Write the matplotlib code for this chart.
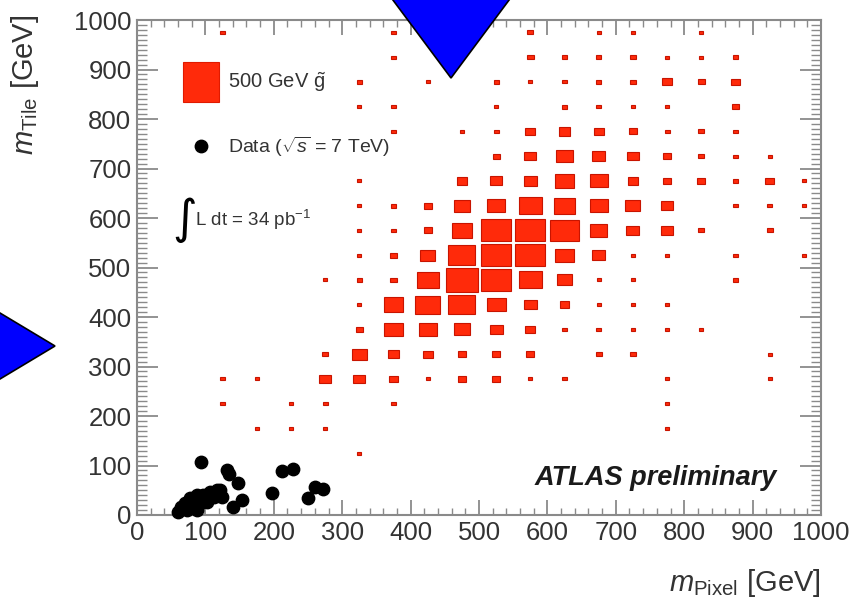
import numpy as np
import matplotlib
matplotlib.use("Agg")
import matplotlib.pyplot as plt
from matplotlib.patches import Rectangle, Polygon
from matplotlib.ticker import MultipleLocator

plt.rcParams['font.family'] = ['Liberation Sans', 'DejaVu Sans']
plt.rcParams['mathtext.fontset'] = 'custom'
plt.rcParams['mathtext.rm'] = 'Liberation Sans'
plt.rcParams['mathtext.it'] = 'Liberation Sans:italic'

# bin centres of the 2D histogram (GeV)
x_centres = [125, 175, 225, 275, 325, 375, 425, 475, 525, 575, 625, 675, 725, 775, 825, 875, 925, 975]
y_centres = [975, 925, 875, 825, 775, 725, 675, 625, 575, 525, 475, 425, 375, 325, 275, 225, 175, 125]

# 500 GeV gluino signal, relative bin content (rows top -> bottom)
gluino = [
    [9, 0, 0, 0, 0, 9, 0, 0, 0, 18, 0, 12, 12, 0, 12, 0, 0, 0],
    [0, 0, 0, 0, 0, 8, 0, 0, 0, 20, 15, 15, 20, 9, 9, 18, 0, 0],
    [0, 0, 0, 0, 15, 0, 8, 0, 15, 12, 12, 15, 18, 31, 22, 28, 0, 0],
    [0, 0, 0, 0, 12, 12, 0, 0, 12, 0, 18, 15, 9, 9, 0, 20, 0, 0],
    [0, 0, 0, 0, 0, 8, 0, 9, 15, 31, 37, 31, 25, 15, 18, 9, 0, 0],
    [0, 0, 0, 0, 0, 0, 0, 0, 22, 37, 50, 40, 37, 25, 18, 12, 12, 0],
    [0, 0, 0, 0, 9, 0, 0, 33, 38, 40, 60, 55, 33, 25, 25, 18, 28, 9],
    [0, 0, 0, 0, 9, 18, 25, 52, 56, 72, 68, 56, 47, 37, 0, 9, 15, 9],
    [0, 0, 0, 0, 9, 9, 25, 62, 94, 94, 88, 53, 40, 37, 18, 0, 18, 0],
    [0, 0, 0, 0, 9, 22, 47, 84, 94, 94, 56, 40, 9, 12, 0, 9, 0, 9],
    [0, 0, 0, 9, 15, 20, 68, 100, 94, 72, 47, 12, 12, 0, 0, 15, 0, 0],
    [0, 0, 0, 0, 12, 62, 78, 84, 59, 40, 30, 9, 12, 12, 0, 0, 0, 0],
    [0, 0, 0, 0, 22, 56, 56, 52, 40, 31, 15, 15, 9, 9, 9, 0, 0, 0],
    [0, 0, 0, 18, 47, 37, 31, 25, 25, 25, 0, 18, 20, 0, 0, 0, 9, 0],
    [8, 8, 0, 37, 37, 28, 9, 25, 25, 9, 9, 0, 0, 9, 0, 0, 9, 0],
    [15, 0, 8, 15, 0, 15, 0, 0, 0, 0, 0, 0, 0, 12, 0, 0, 0, 0],
    [0, 8, 9, 9, 0, 0, 0, 0, 0, 0, 0, 0, 0, 9, 0, 0, 0, 0],
    [0, 0, 0, 0, 8, 0, 0, 0, 0, 0, 0, 0, 0, 0, 0, 0, 0, 0],
]

# data candidates (m_Pixel, m_Tile) in GeV
data_pixel = [93, 131, 134, 147, 121, 153, 141, 197, 212, 228, 250, 260, 272,
              60, 70, 78, 87, 97, 107, 112, 102, 92, 82, 73, 87, 117, 124, 65, 80, 95, 104]
data_tile = [108, 91, 82, 64, 51, 30, 17, 44, 88, 92, 34, 56, 52,
             7, 24, 34, 40, 40, 47, 37, 27, 24, 17, 10, 10, 51, 37, 17, 27, 34, 34]

bin_width = 50
red = '#ff2a0a'
grey = '#8a8a8a'
txt = '#333333'

fig = plt.figure(figsize=(8.67, 6.0), dpi=100)
ax = fig.add_axes([137/867, 85/600, 684/867, 495/600])

vmax = max(max(r) for r in gluino)
for j, y in enumerate(y_centres):
    for i, x in enumerate(x_centres):
        v = gluino[j][i]
        if v <= 0:
            continue
        side = max(v / vmax * bin_width * 0.94, 6)
        ax.add_patch(Rectangle((x - side/2, y - side/2), side, side,
                               facecolor=red, edgecolor='#c81400', linewidth=0.8, zorder=2))

ax.scatter(data_pixel, data_tile, s=80, color='black', zorder=3, clip_on=False)

ax.set_xlim(0, 1000)
ax.set_ylim(0, 1000)
ax.xaxis.set_major_locator(MultipleLocator(100))
ax.xaxis.set_minor_locator(MultipleLocator(20))
ax.yaxis.set_major_locator(MultipleLocator(100))
ax.yaxis.set_minor_locator(MultipleLocator(10))
ax.tick_params(axis='both', which='both', direction='in', top=True, right=True,
               color=grey, labelcolor=txt, labelsize=18.5)
ax.tick_params(axis='y', which='major', length=15, width=1.3, pad=4)
ax.tick_params(axis='y', which='minor', length=7, width=1.0)
ax.tick_params(axis='x', which='major', length=11, width=1.3, pad=4)
ax.tick_params(axis='x', which='minor', length=5, width=1.0)
for s in ax.spines.values():
    s.set_color(grey)
    s.set_linewidth(1.5)

# legend drawn by hand, ROOT style
ax.add_patch(Rectangle((0.067, 0.834), 0.053, 0.081, transform=ax.transAxes,
                       facecolor=red, edgecolor='#e01a00', linewidth=0.8, zorder=4))
ax.text(0.133, 0.874, r'500 GeV $\tilde{\rm g}$', transform=ax.transAxes,
        fontsize=14.5, color=txt, va='center')
ax.scatter([0.094], [0.745], s=80, color='black', transform=ax.transAxes, zorder=4)
ax.text(0.133, 0.743, r'Data ($\sqrt{s}$ = 7 TeV)', transform=ax.transAxes,
        fontsize=14, color=txt, va='center')
ax.text(0.052, 0.595, '\u222b', transform=ax.transAxes, fontsize=34,
        color='black', va='center', family=['DejaVu Sans'])
ax.text(0.085, 0.597, r'L dt = 34 pb$^{-1}$', transform=ax.transAxes,
        fontsize=13.5, color=txt, va='center')
ax.text(0.936, 0.075, 'ATLAS preliminary', transform=ax.transAxes, fontsize=19.5,
        fontweight='bold', fontstyle='italic', color='#1a1a1a', ha='right', va='center')

fig.text(0.947, 0.028, r'$m_{\rm Pixel}$ [GeV]', fontsize=21, color=txt,
         ha='right', va='center')
fig.text(0.029, 0.975, r'$m_{\rm Tile}$ [GeV]', fontsize=21, color=txt,
         ha='center', va='top', rotation=90)

# blue arrow heads overlaid on the picture
def px(x, y):
    return (x / 867, 1 - y / 600)

fig.patches.append(Polygon([px(378, -20), px(524, -20), px(451, 78)], closed=True,
                           transform=fig.transFigure, facecolor='#0000ff',
                           edgecolor='black', linewidth=1.2, zorder=10))
fig.patches.append(Polygon([px(-10, 307), px(-10, 385), px(55, 346)], closed=True,
                           transform=fig.transFigure, facecolor='#0000ff',
                           edgecolor='black', linewidth=1.2, zorder=10))

fig.savefig('out.png', dpi=100)
